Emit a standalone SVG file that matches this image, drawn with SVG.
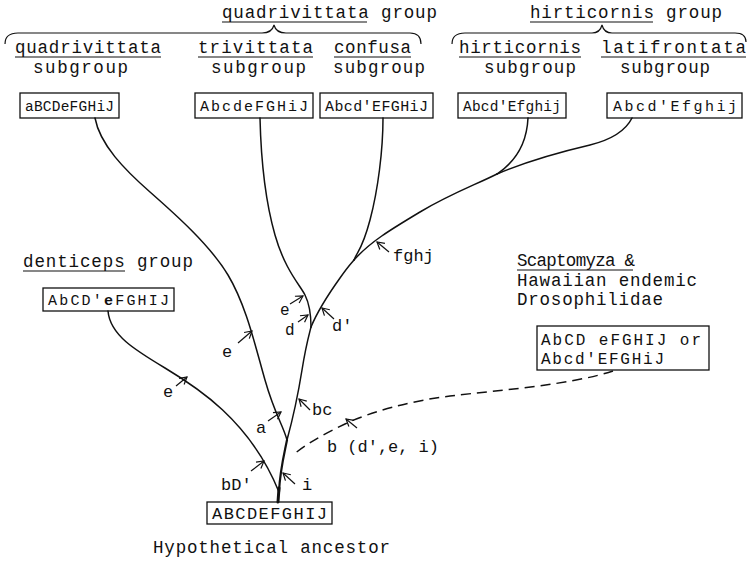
<svg xmlns="http://www.w3.org/2000/svg" width="751" height="565" viewBox="0 0 751 565">
<style>
text{font-family:"Liberation Mono","DejaVu Sans Mono",monospace;fill:#111;}
.h{font-size:17.5px;}
.s{font-size:17.5px;}
.b{font-size:15px;}
.l{font-size:17px;}
.box{fill:#fff;stroke:#111;stroke-width:1.3;}
.ul{stroke:#111;stroke-width:1.1;}
.br{fill:none;stroke:#111;stroke-width:1.2;}
.c{fill:none;stroke:#111;stroke-width:1.5;stroke-linecap:round;}
.d{fill:none;stroke:#111;stroke-width:1.5;stroke-dasharray:10 6;}
.ar{fill:none;stroke:#111;stroke-width:1.2;marker-end:url(#ah);}
</style>
<defs>
<marker id="ah" markerWidth="10" markerHeight="10" refX="8" refY="5" orient="auto" markerUnits="userSpaceOnUse">
<path d="M1,1 L8,5 L1,9" fill="none" stroke="#111" stroke-width="1.2"/>
</marker>
</defs>
<rect width="751" height="565" fill="#fff"/>

<g id="group-headers">
<text class="h" x="222" y="18" textLength="215" lengthAdjust="spacing">quadrivittata group</text>
<line class="ul" x1="222" y1="22" x2="367" y2="22"/>
<path class="br" d="M5,44 Q5,33 18,33 L262,33 Q272,33 274,25 Q276,33 286,33 L410,33 Q421,33 421,44"/>
<text class="h" x="530" y="18" textLength="192" lengthAdjust="spacing">hirticornis group</text>
<line class="ul" x1="530" y1="22" x2="653" y2="22"/>
<path class="br" d="M452,44 Q452,33 465,33 L592,33 Q600,33 602,25 Q604,33 612,33 L735,33 Q746,33 746,42"/>
</g>

<g id="quadrivittata-subgroup">
<text class="s" x="15" y="53" textLength="146" lengthAdjust="spacing">quadrivittata</text>
<line class="ul" x1="15" y1="57" x2="161" y2="57"/>
<text class="s" x="33" y="73" textLength="95" lengthAdjust="spacing">subgroup</text>
<rect class="box" x="20" y="93" width="99" height="25"/>
<text class="b" x="25" y="111" textLength="89" lengthAdjust="spacing" style="font-size:14.5px">aBCDeFGHiJ</text>
</g>

<g id="trivittata-subgroup">
<text class="s" x="198" y="53" textLength="115" lengthAdjust="spacing">trivittata</text>
<line class="ul" x1="198" y1="57" x2="313" y2="57"/>
<text class="s" x="211" y="73" textLength="95" lengthAdjust="spacing">subgroup</text>
<rect class="box" x="195" y="93" width="118" height="25"/>
<text class="b" x="200" y="111" textLength="108" lengthAdjust="spacing">AbcdeFGHiJ</text>
</g>

<g id="confusa-subgroup">
<text class="s" x="334" y="53" textLength="77" lengthAdjust="spacing">confusa</text>
<line class="ul" x1="334" y1="57" x2="411" y2="57"/>
<text class="s" x="333" y="73" textLength="92" lengthAdjust="spacing">subgroup</text>
<rect class="box" x="320" y="93" width="113" height="25"/>
<text class="b" x="325" y="111" textLength="103" lengthAdjust="spacing">Abcd′EFGHiJ</text>
</g>

<g id="hirticornis-subgroup">
<text class="s" x="459" y="53" textLength="122" lengthAdjust="spacing">hirticornis</text>
<line class="ul" x1="459" y1="57" x2="581" y2="57"/>
<text class="s" x="484" y="73" textLength="92" lengthAdjust="spacing">subgroup</text>
<rect class="box" x="458" y="93" width="108" height="25"/>
<text class="b" x="463" y="111" textLength="98" lengthAdjust="spacing" style="font-size:14.5px">Abcd′Efghij</text>
</g>

<g id="latifrontata-subgroup">
<text class="s" x="601" y="53" textLength="145" lengthAdjust="spacing">latifrontata</text>
<line class="ul" x1="601" y1="57" x2="746" y2="57"/>
<text class="s" x="620" y="73" textLength="90" lengthAdjust="spacing">subgroup</text>
<rect class="box" x="607" y="93" width="135" height="25"/>
<text class="b" x="613" y="111" textLength="124" lengthAdjust="spacing">Abcd′Efghij</text>
</g>

<g id="denticeps-group">
<text class="s" x="23" y="267" textLength="170" lengthAdjust="spacing">denticeps group</text>
<line class="ul" x1="23" y1="271" x2="125" y2="271"/>
<rect class="box" x="43" y="288" width="131" height="23"/>
<text class="b" x="48" y="305" textLength="121" lengthAdjust="spacing">AbCD′<tspan font-weight="bold">e</tspan>FGHIJ</text>
</g>

<g id="scaptomyza">
<text class="s" x="517" y="266" textLength="118" lengthAdjust="spacing">Scaptomyza &amp;</text>
<line class="ul" x1="517" y1="270" x2="633" y2="270"/>
<text class="s" x="517" y="286" textLength="180" lengthAdjust="spacing">Hawaiian endemic</text>
<text class="s" x="517" y="305" textLength="146" lengthAdjust="spacing">Drosophilidae</text>
<rect class="box" x="537" y="326" width="172" height="44"/>
<text class="b" x="541" y="345" textLength="160" lengthAdjust="spacing" style="font-size:16px">AbCD eFGHIJ or</text>
<text class="b" x="541" y="364" textLength="123" lengthAdjust="spacing" style="font-size:16px">Abcd′EFGHiJ</text>
</g>

<g id="ancestor">
<rect class="box" x="207" y="502" width="125" height="22"/>
<text class="b" x="212" y="519" textLength="115" lengthAdjust="spacing" style="font-size:17px">ABCDEFGHIJ</text>
<text class="s" x="153" y="553" textLength="237" lengthAdjust="spacing">Hypothetical ancestor</text>
</g>

<g id="connectors">
<path class="c" d="M278,502 L279,488" style="stroke-width:3"/>
<path class="c" d="M108,311 C110,335 135,350 165,368 S250,420 279,492"/>
<path class="c" d="M95,118 C100,145 125,170 150,192 S210,245 228,275 S255,345 265,380 S283,425 287,440"/>
<path class="c" d="M287,440 C284,455 280,470 279,492" style="stroke-width:2.2"/>
<path class="c" d="M287,440 C293,418 298,395 302,370 S309,335 311,327"/>
<path class="c" d="M260,118 C261,160 265,200 275,235 S300,285 305,295 S311,315 311,327"/>
<path class="c" d="M311,327 C318,310 330,292 340,278 S350,265 354,260"/>
<path class="c" d="M383,118 C383,150 378,190 370,220 S358,250 354,260"/>
<path class="c" d="M354,260 C370,242 390,230 420,212 S475,185 497,174"/>
<path class="c" d="M497,174 C530,160 560,152 590,145 C610,140 625,132 632,118"/>
<path class="c" d="M528,118 C527,140 518,160 497,174"/>
<path class="d" d="M613,371 C570,385 500,390 450,396 C410,401 370,412 345,424 S305,445 293,455"/>
</g>

<g id="change-labels">
<line class="ar" x1="176" y1="386" x2="187" y2="377"/>
<text class="l" x="163" y="397">e</text>
<line class="ar" x1="238" y1="343" x2="252" y2="331"/>
<text class="l" x="222" y="357">e</text>
<line class="ar" x1="290" y1="304" x2="303" y2="296"/>
<text class="l" x="280" y="315" style="font-size:16px">e</text>
<line class="ar" x1="298" y1="322" x2="308" y2="315"/>
<text class="l" x="285" y="335" style="font-size:16px">d</text>
<line class="ar" x1="334" y1="319" x2="322" y2="308"/>
<text class="l" x="332" y="331">d′</text>
<line class="ar" x1="389" y1="252" x2="377" y2="242"/>
<text class="l" x="393" y="261">fghj</text>
<line class="ar" x1="310" y1="410" x2="299" y2="399"/>
<text class="l" x="312" y="415">bc</text>
<line class="ar" x1="268" y1="421" x2="281" y2="412"/>
<text class="l" x="256" y="433">a</text>
<line class="ar" x1="251" y1="471" x2="264" y2="461"/>
<text class="l" x="221" y="490">bD′</text>
<line class="ar" x1="295" y1="484" x2="283" y2="473"/>
<text class="l" x="302" y="490">i</text>
<line class="ar" x1="357" y1="428" x2="346" y2="419"/>
<text class="l" x="327" y="452" textLength="112" lengthAdjust="spacing">b (d′,e, i)</text>
</g>
</svg>
